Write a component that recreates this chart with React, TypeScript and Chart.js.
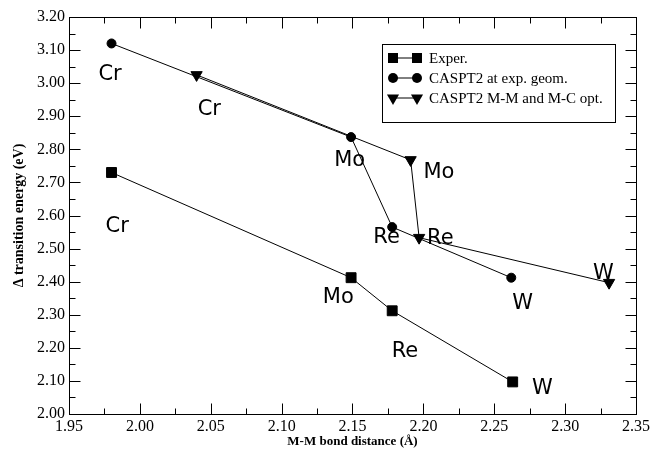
import React, { useEffect, useRef } from 'react';
import { Chart, registerables } from 'chart.js';

Chart.register(...registerables);

// ---- data ----
const seriesNames = ['Exper.', 'CASPT2 at exp. geom.', 'CASPT2 M-M and M-C opt.'];
const seriesStyles = ['rect', 'circle', 'triangle'];

const experX = [1.98, 2.149, 2.178, 2.263];
const experY = [2.73, 2.412, 2.312, 2.097];
const geomX = [1.98, 2.149, 2.178, 2.262];
const geomY = [3.12, 2.837, 2.565, 2.412];
const optX = [2.04, 2.191, 2.197, 2.331];
const optY = [3.025, 2.768, 2.533, 2.397];

const labelTexts = ['Cr', 'Cr', 'Cr', 'Mo', 'Mo', 'Mo', 'Re', 'Re', 'Re', 'W', 'W', 'W'];
const labelX = [1.979, 2.049, 1.984, 2.148, 2.211, 2.140, 2.174, 2.212, 2.187, 2.270, 2.327, 2.284];
const labelY = [3.033, 2.927, 2.573, 2.772, 2.737, 2.357, 2.540, 2.537, 2.194, 2.340, 2.432, 2.082];

const xMin = 1.95, xMax = 2.35, xStep = 0.05;
const yMin = 2.0, yMax = 3.2, yStep = 0.1;
const xTitle = 'M-M bond distance (Å)';
const yTitle = 'Δ transition energy (eV)';

const SERIF = "'Liberation Serif', 'Times New Roman', serif";
const SANS = "'DejaVu Sans', sans-serif";

function drawMarker(ctx: CanvasRenderingContext2D, style: string, x: number, y: number) {
  ctx.beginPath();
  if (style === 'rect') {
    ctx.rect(x - 5, y - 5, 10, 10);
  } else if (style === 'circle') {
    ctx.arc(x, y, 5, 0, Math.PI * 2);
  } else {
    const r = 7;
    ctx.moveTo(x, y + r);
    ctx.lineTo(x - r * Math.sin(Math.PI / 3), y - r / 2);
    ctx.lineTo(x + r * Math.sin(Math.PI / 3), y - r / 2);
    ctx.closePath();
  }
  ctx.fill();
}

const framePlugin = {
  id: 'frameTicks',
  afterDatasetsDraw(chart: any) {
    const { ctx, chartArea: a, scales } = chart;
    const xs = scales.x, ys = scales.y;
    ctx.save();
    ctx.strokeStyle = '#000';
    ctx.lineWidth = 1;
    const L = Math.round(a.left) + 0.5, R = Math.round(a.right) + 0.5;
    const T = Math.round(a.top) + 0.5, B = Math.round(a.bottom) + 0.5;
    ctx.strokeRect(L, T, R - L, B - T);
    const major = 11, minor = 6;
    ctx.beginPath();
    const xt = xs.ticks.map((t: any) => t.value);
    const xv: [number, number][] = [];
    xt.forEach((v: number, i: number) => {
      xv.push([v, major]);
      if (i < xt.length - 1) xv.push([(v + xt[i + 1]) / 2, minor]);
    });
    xv.forEach(([v, len]) => {
      const px = Math.round(xs.getPixelForValue(v)) + 0.5;
      ctx.moveTo(px, B); ctx.lineTo(px, B - len);
      ctx.moveTo(px, T); ctx.lineTo(px, T + len);
    });
    const yt = ys.ticks.map((t: any) => t.value);
    const yv: [number, number][] = [];
    yt.forEach((v: number, i: number) => {
      yv.push([v, major]);
      if (i < yt.length - 1) yv.push([(v + yt[i + 1]) / 2, minor]);
    });
    yv.forEach(([v, len]) => {
      const py = Math.round(ys.getPixelForValue(v)) + 0.5;
      ctx.moveTo(L, py); ctx.lineTo(L + len, py);
      ctx.moveTo(R, py); ctx.lineTo(R - len, py);
    });
    ctx.stroke();

    // element labels
    ctx.fillStyle = '#000';
    ctx.font = `21px ${SANS}`;
    ctx.textAlign = 'center';
    ctx.textBaseline = 'alphabetic';
    labelTexts.forEach((t, i) => {
      const px = xs.getPixelForValue(labelX[i]);
      const py = ys.getPixelForValue(labelY[i]);
      ctx.fillText(t, px, py + 7.6);
    });

    // legend
    const bx = 382.5, by = 44.5, bw = 233, bh = 78;
    ctx.fillStyle = '#fff';
    ctx.fillRect(bx, by, bw, bh);
    ctx.strokeStyle = '#000';
    ctx.strokeRect(bx, by, bw, bh);
    ctx.fillStyle = '#000';
    ctx.font = `15px ${SERIF}`;
    ctx.textAlign = 'left';
    ctx.textBaseline = 'middle';
    seriesNames.forEach((name, i) => {
      const y = 58 + i * 20;
      ctx.beginPath();
      ctx.moveTo(393, y); ctx.lineTo(417, y);
      ctx.stroke();
      drawMarker(ctx, seriesStyles[i], 393, y);
      drawMarker(ctx, seriesStyles[i], 417, y);
      ctx.fillText(name, 429, y + 1);
    });
    ctx.restore();
  },
};

export default function App() {
  const ref = useRef<HTMLCanvasElement>(null);
  useEffect(() => {
    document.body.style.margin = '0';
    const mk = (xsArr: number[], ysArr: number[]) => xsArr.map((x, i) => ({ x, y: ysArr[i] }));
    const common = {
      showLine: true,
      borderColor: '#000',
      borderWidth: 1,
      backgroundColor: '#000',
      pointBackgroundColor: '#000',
      pointBorderColor: '#000',
      pointBorderWidth: 1,
      pointHoverRadius: 0,
    };
    const chart = new Chart(ref.current!, {
      type: 'scatter',
      data: {
        datasets: [
          { ...common, label: seriesNames[0], data: mk(experX, experY), pointStyle: 'rect', pointRadius: 7 },
          { ...common, label: seriesNames[1], data: mk(geomX, geomY), pointStyle: 'circle', pointRadius: 4.5 },
          { ...common, label: seriesNames[2], data: mk(optX, optY), pointStyle: 'triangle', pointRadius: 6.5, pointRotation: 180 },
        ],
      },
      options: {
        animation: false,
        responsive: false,
        devicePixelRatio: 1,
        events: [],
        layout: { padding: { left: 0, top: 17, right: 16, bottom: 0 } },
        plugins: { legend: { display: false }, tooltip: { enabled: false } },
        scales: {
          x: {
            type: 'linear',
            min: xMin,
            max: xMax,
            grid: { display: false, drawTicks: false },
            border: { display: false },
            ticks: {
              stepSize: xStep,
              autoSkip: false,
              maxRotation: 0,
              padding: 3,
              color: '#000',
              font: { family: SERIF, size: 16 },
              callback: (v: any) => Number(v).toFixed(2),
            },
            title: {
              display: true,
              text: xTitle,
              color: '#000',
              font: { family: SERIF, size: 13, weight: 'bold' },
              padding: { top: 0, bottom: 4 },
            },
            afterFit: (s: any) => { s.height = 39; },
          },
          y: {
            type: 'linear',
            min: yMin,
            max: yMax,
            grid: { display: false, drawTicks: false },
            border: { display: false },
            ticks: {
              stepSize: yStep,
              autoSkip: false,
              padding: 4,
              color: '#000',
              font: { family: SERIF, size: 16 },
              callback: (v: any) => Number(v).toFixed(2),
            },
            title: {
              display: true,
              text: yTitle,
              color: '#000',
              font: { family: SERIF, size: 14, weight: 'bold' },
              padding: { top: 11, bottom: 0 },
            },
            afterFit: (s: any) => { s.width = 69; },
          },
        },
      },
      plugins: [framePlugin],
    });
    return () => chart.destroy();
  }, []);
  return (
    <div style={{ width: 653, height: 453 }}>
      <canvas ref={ref} width={653} height={453} style={{ display: 'block' }} />
    </div>
  );
}
